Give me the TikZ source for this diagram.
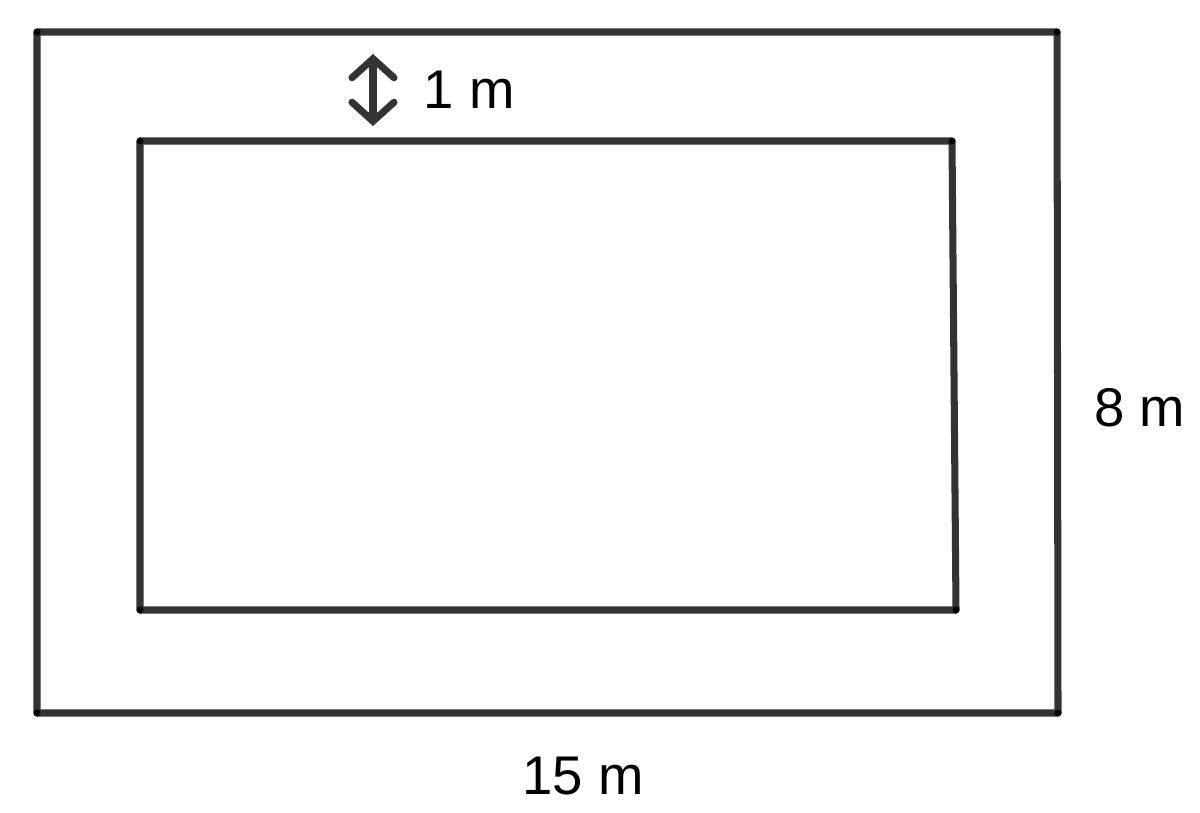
\documentclass[tikz,border=0pt]{standalone}
\usepackage{fontspec}
\setmainfont{Liberation Sans}
\usetikzlibrary{arrows.meta}
\definecolor{wall}{HTML}{333333}
\tikzset{
	edge/.style={color=wall,line width=2pt,line cap=round,line join=round},
	corner/.style={fill=black},
	size/.style={font=\fontsize{15.5}{18}\selectfont,text=black,inner sep=0pt}
}
\begin{document}
	\begin{tikzpicture}[x=0.01cm,y=-0.01cm]
		\useasboundingbox (0,0) rectangle (1200,812);

		\coordinate (o1) at (37,32);
		\coordinate (o2) at (1057,32);
		\coordinate (o3) at (1058,713);
		\coordinate (o4) at (37,713);

		\coordinate (i1) at (140,141);
		\coordinate (i2) at (952,141);
		\coordinate (i3) at (956,610);
		\coordinate (i4) at (140,610);

		\draw[edge] (o1) -- (o2) -- (o3) -- (o4) -- cycle;
		\draw[edge] (i1) -- (i2) -- (i3) -- (i4) -- cycle;

		\foreach \p in {o1,o2,o3,o4,i1,i2,i3,i4}
			\fill[corner] (\p) circle (3.5);

		\coordinate (gapT) at (373,54);
		\coordinate (gapB) at (373,126);
		\draw[edge,{Straight Barb[length=0.19cm,width=0.42cm,line cap=round]}-{Straight Barb[length=0.19cm,width=0.42cm,line cap=round]}] (gapT) -- (gapB);

		\node[size,anchor=west] (gap) at (423,90) {1 m};
		\node[size] (height) at (1140,408) {8 m};
		\node[size] (width) at (583,776) {15 m};
	\end{tikzpicture}
\end{document}
